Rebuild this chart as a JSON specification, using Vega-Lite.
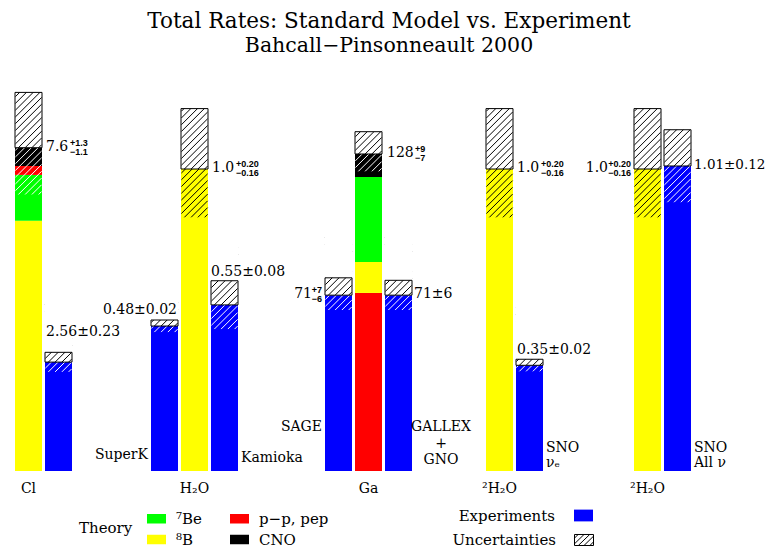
{
  "$schema": "https://vega.github.io/schema/vega-lite/v6.json",
  "background": "white",
  "padding": {"left": 13, "top": 11, "right": 0, "bottom": 0},
  "bounds": "flush",
  "spacing": 0,
  "title": {"text": "Total Rates: Standard Model vs. Experiment", "subtitle": "Bahcall−Pinsonneault 2000", "font": "DejaVu Serif", "fontSize": 21.5, "fontWeight": "normal", "color": "#000000", "subtitleFont": "DejaVu Serif", "subtitleFontSize": 20.5, "subtitleColor": "#000000", "subtitlePadding": 3, "anchor": "middle", "frame": "group", "dx": 374, "offset": 7},
  "config": {"view": {"stroke": null}, "axis": {"grid": false}},
  "datasets": {
    "segments": [
      {"group": "Cl", "bar": "Cl-th", "component": "⁸B", "start": 0, "end": 5.88},
      {"group": "Cl", "bar": "Cl-th", "component": "⁷Be", "start": 5.88, "end": 6.96},
      {"group": "Cl", "bar": "Cl-th", "component": "p−p, pep", "start": 6.96, "end": 7.17},
      {"group": "Cl", "bar": "Cl-th", "component": "CNO", "start": 7.17, "end": 7.6},
      {"group": "Cl", "bar": "Cl-exp", "component": "Experiments", "start": 0, "end": 2.56},
      {"group": "H2O", "bar": "SuperK", "component": "Experiments", "start": 0, "end": 0.48},
      {"group": "H2O", "bar": "H2O-th", "component": "⁸B", "start": 0, "end": 1.0},
      {"group": "H2O", "bar": "Kamioka", "component": "Experiments", "start": 0, "end": 0.55},
      {"group": "Ga", "bar": "SAGE", "component": "Experiments", "start": 0, "end": 71},
      {"group": "Ga", "bar": "Ga-th", "component": "p−p, pep", "start": 0, "end": 71.9},
      {"group": "Ga", "bar": "Ga-th", "component": "⁸B", "start": 71.9, "end": 84.4},
      {"group": "Ga", "bar": "Ga-th", "component": "⁷Be", "start": 84.4, "end": 118.7},
      {"group": "Ga", "bar": "Ga-th", "component": "CNO", "start": 118.7, "end": 128},
      {"group": "Ga", "bar": "GALLEX", "component": "Experiments", "start": 0, "end": 71},
      {"group": "D2O-e", "bar": "SNOe-th", "component": "⁸B", "start": 0, "end": 1.0},
      {"group": "D2O-e", "bar": "SNOe-exp", "component": "Experiments", "start": 0, "end": 0.35},
      {"group": "D2O-all", "bar": "SNOall-th", "component": "⁸B", "start": 0, "end": 1.0},
      {"group": "D2O-all", "bar": "SNOall-exp", "component": "Experiments", "start": 0, "end": 1.01}
    ],
    "bars": [
      {"group": "Cl", "bar": "Cl-th", "glabel": "Cl", "value": 7.6, "lo": 6.5, "hi": 8.9, "lowerIn": "⁷Be", "main": "7.6", "up": "+1.3", "down": "−1.1"},
      {"group": "Cl", "bar": "Cl-exp", "value": 2.56, "lo": 2.33, "hi": 2.79, "lowerIn": "Experiments", "main": "2.56±0.23"},
      {"group": "H2O", "bar": "SuperK", "value": 0.48, "lo": 0.46, "hi": 0.5, "lowerIn": "Experiments", "main": "0.48±0.02", "name": "SuperK"},
      {"group": "H2O", "bar": "H2O-th", "glabel": "H₂O", "value": 1.0, "lo": 0.84, "hi": 1.2, "lowerIn": "⁸B", "main": "1.0", "up": "+0.20", "down": "−0.16"},
      {"group": "H2O", "bar": "Kamioka", "value": 0.55, "lo": 0.47, "hi": 0.63, "lowerIn": "Experiments", "main": "0.55±0.08", "name": "Kamioka"},
      {"group": "Ga", "bar": "SAGE", "value": 71, "lo": 65, "hi": 78, "lowerIn": "Experiments", "main": "71", "up": "+7", "down": "−6", "name": "SAGE"},
      {"group": "Ga", "bar": "Ga-th", "glabel": "Ga", "value": 128, "lo": 121, "hi": 137, "lowerIn": "CNO", "main": "128", "up": "+9", "down": "−7"},
      {"group": "Ga", "bar": "GALLEX", "value": 71, "lo": 65, "hi": 77, "lowerIn": "Experiments", "main": "71±6", "name": "GALLEX\n+\nGNO"},
      {"group": "D2O-e", "bar": "SNOe-th", "glabel": "²H₂O", "value": 1.0, "lo": 0.84, "hi": 1.2, "lowerIn": "⁸B", "main": "1.0", "up": "+0.20", "down": "−0.16"},
      {"group": "D2O-e", "bar": "SNOe-exp", "value": 0.35, "lo": 0.33, "hi": 0.37, "lowerIn": "Experiments", "main": "0.35±0.02", "name": "SNO\nνₑ"},
      {"group": "D2O-all", "bar": "SNOall-th", "glabel": "²H₂O", "value": 1.0, "lo": 0.84, "hi": 1.2, "lowerIn": "⁸B", "main": "1.0", "up": "+0.20", "down": "−0.16"},
      {"group": "D2O-all", "bar": "SNOall-exp", "value": 1.01, "lo": 0.89, "hi": 1.13, "lowerIn": "Experiments", "main": "1.01±0.12", "name": "SNO\nAll ν"}
    ]
  },
  "hconcat": [
    {
      "width": 136, "height": 408,
      "layer": [
        {"data": {"name": "segments"}, "transform": [{"filter": "datum.group == 'Cl'"}], "mark": {"type": "rect"},
         "encoding": {
           "x": {"field": "bar", "type": "nominal", "scale": {"domain": ["Cl-th", "Cl-exp"], "paddingInner": 0.1, "paddingOuter": 0, "range": [0, 57]}, "axis": null},
           "y": {"field": "start", "type": "quantitative", "scale": {"domain": [0, 9.591], "nice": false, "zero": true}, "axis": null},
           "y2": {"field": "end"},
           "fill": {"field": "component", "type": "nominal", "scale": {"domain": ["⁷Be", "p−p, pep", "⁸B", "CNO", "Experiments"], "range": ["#00ff00", "#ff0000", "#ffff00", "#000000", "#0000ff"]},
             "legend": {"values": ["⁷Be", "p−p, pep", "⁸B", "CNO"], "title": "Theory", "orient": "none", "legendX": 64, "legendY": 446, "direction": "horizontal", "columns": 2, "titleOrient": "left", "titleAnchor": "middle", "titleFont": "DejaVu Serif", "titleFontSize": 15, "titleFontWeight": "normal", "titleColor": "#000000", "titlePadding": 14, "labelFont": "DejaVu Serif", "labelFontSize": 15, "labelColor": "#000000", "labelOffset": 10, "symbolType": "M-1,-0.5H1V0.5H-1Z", "symbolSize": 361, "symbolStrokeWidth": 0, "symbolOpacity": 1, "columnPadding": 28, "rowPadding": 3}},
           "opacity": {"datum": "Experiments", "type": "nominal", "scale": {"domain": ["Experiments"], "range": [1]},
             "legend": {"title": null, "orient": "none", "legendX": 559, "legendY": 443, "labelFont": "DejaVu Serif", "labelFontSize": 15, "labelColor": "#000000", "labelAlign": "right", "labelOffset": -38, "symbolType": "M-1,-0.62H1V0.62H-1Z", "symbolSize": 361, "symbolFillColor": "#0000ff", "symbolStrokeColor": "#0000ff", "symbolStrokeWidth": 0, "symbolOpacity": 1}}
         }},
        {"data": {"name": "bars"}, "transform": [{"filter": "datum.group == 'Cl' && datum.lowerIn != '⁸B'"}],
         "mark": {"type": "point", "shape": "M0.75,0L0.97,-0.22M0.25,0L0.97,-0.72M-0.25,0L0.97,-1.22M-0.75,0L0.97,-1.72M-0.97,-0.28L0.97,-2.22M-0.97,-0.78L0.97,-2.72M-0.97,-1.28L0.97,-3.22M-0.97,-1.78L0.97,-3.72M-0.97,-2.28L0.97,-4.22M-0.97,-2.78L0.85,-4.6M-0.97,-3.28L0.35,-4.6M-0.97,-3.78L-0.15,-4.6M-0.97,-4.28L-0.65,-4.6", "size": 729, "filled": false, "stroke": "#ffffff", "strokeWidth": 1, "opacity": 1},
         "encoding": {"x": {"field": "bar", "type": "nominal", "axis": null}, "y": {"field": "lo", "type": "quantitative", "axis": null}}},
        {"data": {"name": "bars"}, "transform": [{"filter": "datum.group == 'Cl'"}], "mark": {"type": "rect", "fill": "#ffffff"},
         "encoding": {"x": {"field": "bar", "type": "nominal", "axis": null}, "y": {"field": "value", "type": "quantitative", "axis": null}, "y2": {"field": "hi"}}},
        {"data": {"name": "bars"}, "transform": [{"filter": "datum.group == 'Cl'"}],
         "mark": {"type": "point", "shape": "M0.75,0L0.97,-0.22M0.25,0L0.97,-0.72M-0.25,0L0.97,-1.22M-0.75,0L0.97,-1.72M-0.97,-0.28L0.97,-2.22M-0.97,-0.78L0.97,-2.72M-0.97,-1.28L0.97,-3.22M-0.97,-1.78L0.97,-3.72M-0.97,-2.28L0.97,-4.22M-0.97,-2.78L0.85,-4.6M-0.97,-3.28L0.35,-4.6M-0.97,-3.78L-0.15,-4.6M-0.97,-4.28L-0.65,-4.6", "size": 729, "filled": false, "stroke": "#000000", "strokeWidth": 1, "opacity": 1},
         "encoding": {"x": {"field": "bar", "type": "nominal", "axis": null}, "y": {"field": "value", "type": "quantitative", "axis": null}}},
        {"data": {"name": "bars"}, "transform": [{"filter": "datum.group == 'Cl'"}], "mark": {"type": "rect", "fill": "#ffffff"},
         "encoding": {"x": {"field": "bar", "type": "nominal", "axis": null}, "y": {"field": "hi", "type": "quantitative", "axis": null}, "y2": {"datum": 9.591}}},
        {"data": {"name": "bars"}, "transform": [{"filter": "datum.group == 'Cl'"}], "mark": {"type": "rect", "fill": "transparent", "strokeWidth": 1},
         "encoding": {"x": {"field": "bar", "type": "nominal", "axis": null}, "y": {"field": "value", "type": "quantitative", "axis": null}, "y2": {"field": "hi"},
           "stroke": {"datum": "Uncertainties", "type": "nominal", "scale": {"domain": ["Uncertainties"], "range": ["#000000"]},
             "legend": {"title": null, "orient": "none", "legendX": 559, "legendY": 467, "labelFont": "DejaVu Serif", "labelFontSize": 15, "labelColor": "#000000", "labelAlign": "right", "labelOffset": -38, "symbolType": "M-1,-0.58H1V0.58H-1ZM-1,-0.2L-0.62,-0.58M-1,0.4L0,-0.58M-0.6,0.58L0.6,-0.58M0,0.58L1,-0.4M0.62,0.58L1,0.2", "symbolSize": 361, "symbolFillColor": "#ffffff", "symbolStrokeWidth": 1, "symbolOpacity": 1}}
         }},
        {"data": {"name": "bars"}, "transform": [{"filter": "datum.bar == 'Cl-th'"}], "mark": {"type": "text", "align": "left", "baseline": "middle", "dx": 4, "dy": -1, "font": "DejaVu Serif", "fontSize": 14},
         "encoding": {"x": {"field": "bar", "type": "nominal", "bandPosition": 1, "axis": null}, "y": {"field": "value", "type": "quantitative", "axis": null}, "text": {"field": "main"}}},
        {"data": {"name": "bars"}, "transform": [{"filter": "datum.bar == 'Cl-th'"}], "mark": {"type": "text", "align": "left", "baseline": "middle", "dx": 28, "dy": -5, "font": "Liberation Sans", "fontWeight": "bold", "fontSize": 9},
         "encoding": {"x": {"field": "bar", "type": "nominal", "bandPosition": 1, "axis": null}, "y": {"field": "value", "type": "quantitative", "axis": null}, "text": {"field": "up"}}},
        {"data": {"name": "bars"}, "transform": [{"filter": "datum.bar == 'Cl-th'"}], "mark": {"type": "text", "align": "left", "baseline": "middle", "dx": 28, "dy": 4, "font": "Liberation Sans", "fontWeight": "bold", "fontSize": 9},
         "encoding": {"x": {"field": "bar", "type": "nominal", "bandPosition": 1, "axis": null}, "y": {"field": "value", "type": "quantitative", "axis": null}, "text": {"field": "down"}}},
        {"data": {"name": "bars"}, "transform": [{"filter": "datum.bar == 'Cl-exp'"}], "mark": {"type": "text", "align": "left", "baseline": "alphabetic", "dx": 1, "dy": -16, "font": "DejaVu Serif", "fontSize": 14},
         "encoding": {"x": {"field": "bar", "type": "nominal", "bandPosition": 0, "axis": null}, "y": {"field": "hi", "type": "quantitative", "axis": null}, "text": {"field": "main"}}},
        {"data": {"name": "bars"}, "transform": [{"filter": "datum.group == 'Cl' && isValid(datum.glabel)"}], "mark": {"type": "text", "align": "center", "baseline": "top", "dy": 11, "font": "DejaVu Serif", "fontSize": 14},
         "encoding": {"x": {"field": "bar", "type": "nominal", "bandPosition": 0.5, "axis": null}, "y": {"datum": 0, "type": "quantitative", "axis": null}, "text": {"field": "glabel"}}}
      ]
    },
    {
      "width": 174, "height": 408,
      "layer": [
        {"data": {"name": "segments"}, "transform": [{"filter": "datum.group == 'H2O'"}], "mark": {"type": "rect"},
         "encoding": {
           "x": {"field": "bar", "type": "nominal", "scale": {"domain": ["SuperK", "H2O-th", "Kamioka"], "paddingInner": 0.1, "paddingOuter": 0, "range": [0, 87]}, "axis": null},
           "y": {"field": "start", "type": "quantitative", "scale": {"domain": [0, 1.351], "nice": false, "zero": true}, "axis": null},
           "y2": {"field": "end"},
           "fill": {"field": "component", "type": "nominal", "scale": {"domain": ["⁷Be", "p−p, pep", "⁸B", "CNO", "Experiments"], "range": ["#00ff00", "#ff0000", "#ffff00", "#000000", "#0000ff"]}, "legend": null}
         }},
        {"data": {"name": "bars"}, "transform": [{"filter": "datum.group == 'H2O' && datum.lowerIn != '⁸B'"}],
         "mark": {"type": "point", "shape": "M0.75,0L0.97,-0.22M0.25,0L0.97,-0.72M-0.25,0L0.97,-1.22M-0.75,0L0.97,-1.72M-0.97,-0.28L0.97,-2.22M-0.97,-0.78L0.97,-2.72M-0.97,-1.28L0.97,-3.22M-0.97,-1.78L0.97,-3.72M-0.97,-2.28L0.97,-4.22M-0.97,-2.78L0.85,-4.6M-0.97,-3.28L0.35,-4.6M-0.97,-3.78L-0.15,-4.6M-0.97,-4.28L-0.65,-4.6", "size": 729, "filled": false, "stroke": "#ffffff", "strokeWidth": 1, "opacity": 1},
         "encoding": {"x": {"field": "bar", "type": "nominal", "axis": null}, "y": {"field": "lo", "type": "quantitative", "axis": null}}},
        {"data": {"name": "bars"}, "transform": [{"filter": "datum.group == 'H2O' && datum.lowerIn == '⁸B'"}],
         "mark": {"type": "point", "shape": "M0.75,0L0.97,-0.22M0.25,0L0.97,-0.72M-0.25,0L0.97,-1.22M-0.75,0L0.97,-1.72M-0.97,-0.28L0.97,-2.22M-0.97,-0.78L0.97,-2.72M-0.97,-1.28L0.97,-3.22M-0.97,-1.78L0.97,-3.72M-0.97,-2.28L0.97,-4.22M-0.97,-2.78L0.85,-4.6M-0.97,-3.28L0.35,-4.6M-0.97,-3.78L-0.15,-4.6M-0.97,-4.28L-0.65,-4.6", "size": 729, "filled": false, "stroke": "#000000", "strokeWidth": 1, "opacity": 1},
         "encoding": {"x": {"field": "bar", "type": "nominal", "axis": null}, "y": {"field": "lo", "type": "quantitative", "axis": null}}},
        {"data": {"name": "bars"}, "transform": [{"filter": "datum.group == 'H2O'"}], "mark": {"type": "rect", "fill": "#ffffff"},
         "encoding": {"x": {"field": "bar", "type": "nominal", "axis": null}, "y": {"field": "value", "type": "quantitative", "axis": null}, "y2": {"field": "hi"}}},
        {"data": {"name": "bars"}, "transform": [{"filter": "datum.group == 'H2O'"}],
         "mark": {"type": "point", "shape": "M0.75,0L0.97,-0.22M0.25,0L0.97,-0.72M-0.25,0L0.97,-1.22M-0.75,0L0.97,-1.72M-0.97,-0.28L0.97,-2.22M-0.97,-0.78L0.97,-2.72M-0.97,-1.28L0.97,-3.22M-0.97,-1.78L0.97,-3.72M-0.97,-2.28L0.97,-4.22M-0.97,-2.78L0.85,-4.6M-0.97,-3.28L0.35,-4.6M-0.97,-3.78L-0.15,-4.6M-0.97,-4.28L-0.65,-4.6", "size": 729, "filled": false, "stroke": "#000000", "strokeWidth": 1, "opacity": 1},
         "encoding": {"x": {"field": "bar", "type": "nominal", "axis": null}, "y": {"field": "value", "type": "quantitative", "axis": null}}},
        {"data": {"name": "bars"}, "transform": [{"filter": "datum.group == 'H2O'"}], "mark": {"type": "rect", "fill": "#ffffff"},
         "encoding": {"x": {"field": "bar", "type": "nominal", "axis": null}, "y": {"field": "hi", "type": "quantitative", "axis": null}, "y2": {"datum": 1.351}}},
        {"data": {"name": "bars"}, "transform": [{"filter": "datum.group == 'H2O'"}], "mark": {"type": "rect", "fill": "transparent", "strokeWidth": 1},
         "encoding": {"x": {"field": "bar", "type": "nominal", "axis": null}, "y": {"field": "value", "type": "quantitative", "axis": null}, "y2": {"field": "hi"},
           "stroke": {"datum": "Uncertainties", "type": "nominal", "scale": {"domain": ["Uncertainties"], "range": ["#000000"]}, "legend": null}}},
        {"data": {"name": "bars"}, "transform": [{"filter": "datum.bar == 'H2O-th'"}], "mark": {"type": "text", "align": "left", "baseline": "middle", "dx": 4, "dy": -1, "font": "DejaVu Serif", "fontSize": 14},
         "encoding": {"x": {"field": "bar", "type": "nominal", "bandPosition": 1, "axis": null}, "y": {"field": "value", "type": "quantitative", "axis": null}, "text": {"field": "main"}}},
        {"data": {"name": "bars"}, "transform": [{"filter": "datum.bar == 'H2O-th'"}], "mark": {"type": "text", "align": "left", "baseline": "middle", "dx": 28, "dy": -5, "font": "Liberation Sans", "fontWeight": "bold", "fontSize": 9},
         "encoding": {"x": {"field": "bar", "type": "nominal", "bandPosition": 1, "axis": null}, "y": {"field": "value", "type": "quantitative", "axis": null}, "text": {"field": "up"}}},
        {"data": {"name": "bars"}, "transform": [{"filter": "datum.bar == 'H2O-th'"}], "mark": {"type": "text", "align": "left", "baseline": "middle", "dx": 28, "dy": 4, "font": "Liberation Sans", "fontWeight": "bold", "fontSize": 9},
         "encoding": {"x": {"field": "bar", "type": "nominal", "bandPosition": 1, "axis": null}, "y": {"field": "value", "type": "quantitative", "axis": null}, "text": {"field": "down"}}},
        {"data": {"name": "bars"}, "transform": [{"filter": "datum.bar == 'SuperK'"}], "mark": {"type": "text", "align": "right", "baseline": "alphabetic", "dx": -1, "dy": -6, "font": "DejaVu Serif", "fontSize": 14},
         "encoding": {"x": {"field": "bar", "type": "nominal", "bandPosition": 1, "axis": null}, "y": {"field": "hi", "type": "quantitative", "axis": null}, "text": {"field": "main"}}},
        {"data": {"name": "bars"}, "transform": [{"filter": "datum.bar == 'Kamioka'"}], "mark": {"type": "text", "align": "left", "baseline": "alphabetic", "dx": 0, "dy": -5, "font": "DejaVu Serif", "fontSize": 14},
         "encoding": {"x": {"field": "bar", "type": "nominal", "bandPosition": 0, "axis": null}, "y": {"field": "hi", "type": "quantitative", "axis": null}, "text": {"field": "main"}}},
        {"data": {"name": "bars"}, "transform": [{"filter": "datum.bar == 'SuperK'"}], "mark": {"type": "text", "align": "right", "baseline": "alphabetic", "dx": -3, "dy": -12, "font": "DejaVu Serif", "fontSize": 14},
         "encoding": {"x": {"field": "bar", "type": "nominal", "bandPosition": 0, "axis": null}, "y": {"datum": 0, "type": "quantitative", "axis": null}, "text": {"field": "name"}}},
        {"data": {"name": "bars"}, "transform": [{"filter": "datum.bar == 'Kamioka'"}], "mark": {"type": "text", "align": "left", "baseline": "alphabetic", "dx": 3, "dy": -9, "font": "DejaVu Serif", "fontSize": 14},
         "encoding": {"x": {"field": "bar", "type": "nominal", "bandPosition": 1, "axis": null}, "y": {"datum": 0, "type": "quantitative", "axis": null}, "text": {"field": "name"}}},
        {"data": {"name": "bars"}, "transform": [{"filter": "datum.group == 'H2O' && isValid(datum.glabel)"}], "mark": {"type": "text", "align": "center", "baseline": "top", "dy": 11, "font": "DejaVu Serif", "fontSize": 14},
         "encoding": {"x": {"field": "bar", "type": "nominal", "bandPosition": 0.5, "axis": null}, "y": {"datum": 0, "type": "quantitative", "axis": null}, "text": {"field": "glabel"}}}
      ]
    },
    {
      "width": 161, "height": 408,
      "layer": [
        {"data": {"name": "segments"}, "transform": [{"filter": "datum.group == 'Ga'"}], "mark": {"type": "rect"},
         "encoding": {
           "x": {"field": "bar", "type": "nominal", "scale": {"domain": ["SAGE", "Ga-th", "GALLEX"], "paddingInner": 0.1, "paddingOuter": 0, "range": [0, 87]}, "axis": null},
           "y": {"field": "start", "type": "quantitative", "scale": {"domain": [0, 164.74], "nice": false, "zero": true}, "axis": null},
           "y2": {"field": "end"},
           "fill": {"field": "component", "type": "nominal", "scale": {"domain": ["⁷Be", "p−p, pep", "⁸B", "CNO", "Experiments"], "range": ["#00ff00", "#ff0000", "#ffff00", "#000000", "#0000ff"]}, "legend": null}
         }},
        {"data": {"name": "bars"}, "transform": [{"filter": "datum.group == 'Ga' && datum.lowerIn != '⁸B'"}],
         "mark": {"type": "point", "shape": "M0.75,0L0.97,-0.22M0.25,0L0.97,-0.72M-0.25,0L0.97,-1.22M-0.75,0L0.97,-1.72M-0.97,-0.28L0.97,-2.22M-0.97,-0.78L0.97,-2.72M-0.97,-1.28L0.97,-3.22M-0.97,-1.78L0.97,-3.72M-0.97,-2.28L0.97,-4.22M-0.97,-2.78L0.85,-4.6M-0.97,-3.28L0.35,-4.6M-0.97,-3.78L-0.15,-4.6M-0.97,-4.28L-0.65,-4.6", "size": 729, "filled": false, "stroke": "#ffffff", "strokeWidth": 1, "opacity": 1},
         "encoding": {"x": {"field": "bar", "type": "nominal", "axis": null}, "y": {"field": "lo", "type": "quantitative", "axis": null}}},
        {"data": {"name": "bars"}, "transform": [{"filter": "datum.group == 'Ga'"}], "mark": {"type": "rect", "fill": "#ffffff"},
         "encoding": {"x": {"field": "bar", "type": "nominal", "axis": null}, "y": {"field": "value", "type": "quantitative", "axis": null}, "y2": {"field": "hi"}}},
        {"data": {"name": "bars"}, "transform": [{"filter": "datum.group == 'Ga'"}],
         "mark": {"type": "point", "shape": "M0.75,0L0.97,-0.22M0.25,0L0.97,-0.72M-0.25,0L0.97,-1.22M-0.75,0L0.97,-1.72M-0.97,-0.28L0.97,-2.22M-0.97,-0.78L0.97,-2.72M-0.97,-1.28L0.97,-3.22M-0.97,-1.78L0.97,-3.72M-0.97,-2.28L0.97,-4.22M-0.97,-2.78L0.85,-4.6M-0.97,-3.28L0.35,-4.6M-0.97,-3.78L-0.15,-4.6M-0.97,-4.28L-0.65,-4.6", "size": 729, "filled": false, "stroke": "#000000", "strokeWidth": 1, "opacity": 1},
         "encoding": {"x": {"field": "bar", "type": "nominal", "axis": null}, "y": {"field": "value", "type": "quantitative", "axis": null}}},
        {"data": {"name": "bars"}, "transform": [{"filter": "datum.group == 'Ga'"}], "mark": {"type": "rect", "fill": "#ffffff"},
         "encoding": {"x": {"field": "bar", "type": "nominal", "axis": null}, "y": {"field": "hi", "type": "quantitative", "axis": null}, "y2": {"datum": 164.74}}},
        {"data": {"name": "bars"}, "transform": [{"filter": "datum.group == 'Ga'"}], "mark": {"type": "rect", "fill": "transparent", "strokeWidth": 1},
         "encoding": {"x": {"field": "bar", "type": "nominal", "axis": null}, "y": {"field": "value", "type": "quantitative", "axis": null}, "y2": {"field": "hi"},
           "stroke": {"datum": "Uncertainties", "type": "nominal", "scale": {"domain": ["Uncertainties"], "range": ["#000000"]}, "legend": null}}},
        {"data": {"name": "bars"}, "transform": [{"filter": "datum.bar == 'Ga-th'"}], "mark": {"type": "text", "align": "left", "baseline": "middle", "dx": 5, "dy": -1, "font": "DejaVu Serif", "fontSize": 14},
         "encoding": {"x": {"field": "bar", "type": "nominal", "bandPosition": 1, "axis": null}, "y": {"field": "value", "type": "quantitative", "axis": null}, "text": {"field": "main"}}},
        {"data": {"name": "bars"}, "transform": [{"filter": "datum.bar == 'Ga-th'"}], "mark": {"type": "text", "align": "left", "baseline": "middle", "dx": 33, "dy": -5, "font": "Liberation Sans", "fontWeight": "bold", "fontSize": 9},
         "encoding": {"x": {"field": "bar", "type": "nominal", "bandPosition": 1, "axis": null}, "y": {"field": "value", "type": "quantitative", "axis": null}, "text": {"field": "up"}}},
        {"data": {"name": "bars"}, "transform": [{"filter": "datum.bar == 'Ga-th'"}], "mark": {"type": "text", "align": "left", "baseline": "middle", "dx": 33, "dy": 4, "font": "Liberation Sans", "fontWeight": "bold", "fontSize": 9},
         "encoding": {"x": {"field": "bar", "type": "nominal", "bandPosition": 1, "axis": null}, "y": {"field": "value", "type": "quantitative", "axis": null}, "text": {"field": "down"}}},
        {"data": {"name": "bars"}, "transform": [{"filter": "datum.bar == 'SAGE'"}], "mark": {"type": "text", "align": "right", "baseline": "middle", "dx": -13, "dy": -1, "font": "DejaVu Serif", "fontSize": 14},
         "encoding": {"x": {"field": "bar", "type": "nominal", "bandPosition": 0, "axis": null}, "y": {"field": "value", "type": "quantitative", "axis": null}, "text": {"field": "main"}}},
        {"data": {"name": "bars"}, "transform": [{"filter": "datum.bar == 'SAGE'"}], "mark": {"type": "text", "align": "right", "baseline": "middle", "dx": -3, "dy": -5, "font": "Liberation Sans", "fontWeight": "bold", "fontSize": 9},
         "encoding": {"x": {"field": "bar", "type": "nominal", "bandPosition": 0, "axis": null}, "y": {"field": "value", "type": "quantitative", "axis": null}, "text": {"field": "up"}}},
        {"data": {"name": "bars"}, "transform": [{"filter": "datum.bar == 'SAGE'"}], "mark": {"type": "text", "align": "right", "baseline": "middle", "dx": -3, "dy": 4, "font": "Liberation Sans", "fontWeight": "bold", "fontSize": 9},
         "encoding": {"x": {"field": "bar", "type": "nominal", "bandPosition": 0, "axis": null}, "y": {"field": "value", "type": "quantitative", "axis": null}, "text": {"field": "down"}}},
        {"data": {"name": "bars"}, "transform": [{"filter": "datum.bar == 'GALLEX'"}], "mark": {"type": "text", "align": "left", "baseline": "middle", "dx": 2, "dy": -1, "font": "DejaVu Serif", "fontSize": 14},
         "encoding": {"x": {"field": "bar", "type": "nominal", "bandPosition": 1, "axis": null}, "y": {"field": "value", "type": "quantitative", "axis": null}, "text": {"field": "main"}}},
        {"data": {"name": "bars"}, "transform": [{"filter": "datum.bar == 'SAGE'"}], "mark": {"type": "text", "align": "right", "baseline": "alphabetic", "dx": -3, "dy": -40, "font": "DejaVu Serif", "fontSize": 14},
         "encoding": {"x": {"field": "bar", "type": "nominal", "bandPosition": 0, "axis": null}, "y": {"datum": 0, "type": "quantitative", "axis": null}, "text": {"field": "name"}}},
        {"data": {"name": "bars"}, "transform": [{"filter": "datum.bar == 'GALLEX'"}], "mark": {"type": "text", "align": "center", "baseline": "alphabetic", "dx": 29, "dy": -40, "lineBreak": "\n", "lineHeight": 16.5, "font": "DejaVu Serif", "fontSize": 14},
         "encoding": {"x": {"field": "bar", "type": "nominal", "bandPosition": 1, "axis": null}, "y": {"datum": 0, "type": "quantitative", "axis": null}, "text": {"field": "name"}}},
        {"data": {"name": "bars"}, "transform": [{"filter": "datum.group == 'Ga' && isValid(datum.glabel)"}], "mark": {"type": "text", "align": "center", "baseline": "top", "dy": 11, "font": "DejaVu Serif", "fontSize": 14},
         "encoding": {"x": {"field": "bar", "type": "nominal", "bandPosition": 0.5, "axis": null}, "y": {"datum": 0, "type": "quantitative", "axis": null}, "text": {"field": "glabel"}}}
      ]
    },
    {
      "width": 148, "height": 408,
      "layer": [
        {"data": {"name": "segments"}, "transform": [{"filter": "datum.group == 'D2O-e'"}], "mark": {"type": "rect"},
         "encoding": {
           "x": {"field": "bar", "type": "nominal", "scale": {"domain": ["SNOe-th", "SNOe-exp"], "paddingInner": 0.1, "paddingOuter": 0, "range": [0, 57]}, "axis": null},
           "y": {"field": "start", "type": "quantitative", "scale": {"domain": [0, 1.351], "nice": false, "zero": true}, "axis": null},
           "y2": {"field": "end"},
           "fill": {"field": "component", "type": "nominal", "scale": {"domain": ["⁷Be", "p−p, pep", "⁸B", "CNO", "Experiments"], "range": ["#00ff00", "#ff0000", "#ffff00", "#000000", "#0000ff"]}, "legend": null}
         }},
        {"data": {"name": "bars"}, "transform": [{"filter": "datum.group == 'D2O-e' && datum.lowerIn != '⁸B'"}],
         "mark": {"type": "point", "shape": "M0.75,0L0.97,-0.22M0.25,0L0.97,-0.72M-0.25,0L0.97,-1.22M-0.75,0L0.97,-1.72M-0.97,-0.28L0.97,-2.22M-0.97,-0.78L0.97,-2.72M-0.97,-1.28L0.97,-3.22M-0.97,-1.78L0.97,-3.72M-0.97,-2.28L0.97,-4.22M-0.97,-2.78L0.85,-4.6M-0.97,-3.28L0.35,-4.6M-0.97,-3.78L-0.15,-4.6M-0.97,-4.28L-0.65,-4.6", "size": 729, "filled": false, "stroke": "#ffffff", "strokeWidth": 1, "opacity": 1},
         "encoding": {"x": {"field": "bar", "type": "nominal", "axis": null}, "y": {"field": "lo", "type": "quantitative", "axis": null}}},
        {"data": {"name": "bars"}, "transform": [{"filter": "datum.group == 'D2O-e' && datum.lowerIn == '⁸B'"}],
         "mark": {"type": "point", "shape": "M0.75,0L0.97,-0.22M0.25,0L0.97,-0.72M-0.25,0L0.97,-1.22M-0.75,0L0.97,-1.72M-0.97,-0.28L0.97,-2.22M-0.97,-0.78L0.97,-2.72M-0.97,-1.28L0.97,-3.22M-0.97,-1.78L0.97,-3.72M-0.97,-2.28L0.97,-4.22M-0.97,-2.78L0.85,-4.6M-0.97,-3.28L0.35,-4.6M-0.97,-3.78L-0.15,-4.6M-0.97,-4.28L-0.65,-4.6", "size": 729, "filled": false, "stroke": "#000000", "strokeWidth": 1, "opacity": 1},
         "encoding": {"x": {"field": "bar", "type": "nominal", "axis": null}, "y": {"field": "lo", "type": "quantitative", "axis": null}}},
        {"data": {"name": "bars"}, "transform": [{"filter": "datum.group == 'D2O-e'"}], "mark": {"type": "rect", "fill": "#ffffff"},
         "encoding": {"x": {"field": "bar", "type": "nominal", "axis": null}, "y": {"field": "value", "type": "quantitative", "axis": null}, "y2": {"field": "hi"}}},
        {"data": {"name": "bars"}, "transform": [{"filter": "datum.group == 'D2O-e'"}],
         "mark": {"type": "point", "shape": "M0.75,0L0.97,-0.22M0.25,0L0.97,-0.72M-0.25,0L0.97,-1.22M-0.75,0L0.97,-1.72M-0.97,-0.28L0.97,-2.22M-0.97,-0.78L0.97,-2.72M-0.97,-1.28L0.97,-3.22M-0.97,-1.78L0.97,-3.72M-0.97,-2.28L0.97,-4.22M-0.97,-2.78L0.85,-4.6M-0.97,-3.28L0.35,-4.6M-0.97,-3.78L-0.15,-4.6M-0.97,-4.28L-0.65,-4.6", "size": 729, "filled": false, "stroke": "#000000", "strokeWidth": 1, "opacity": 1},
         "encoding": {"x": {"field": "bar", "type": "nominal", "axis": null}, "y": {"field": "value", "type": "quantitative", "axis": null}}},
        {"data": {"name": "bars"}, "transform": [{"filter": "datum.group == 'D2O-e'"}], "mark": {"type": "rect", "fill": "#ffffff"},
         "encoding": {"x": {"field": "bar", "type": "nominal", "axis": null}, "y": {"field": "hi", "type": "quantitative", "axis": null}, "y2": {"datum": 1.351}}},
        {"data": {"name": "bars"}, "transform": [{"filter": "datum.group == 'D2O-e'"}], "mark": {"type": "rect", "fill": "transparent", "strokeWidth": 1},
         "encoding": {"x": {"field": "bar", "type": "nominal", "axis": null}, "y": {"field": "value", "type": "quantitative", "axis": null}, "y2": {"field": "hi"},
           "stroke": {"datum": "Uncertainties", "type": "nominal", "scale": {"domain": ["Uncertainties"], "range": ["#000000"]}, "legend": null}}},
        {"data": {"name": "bars"}, "transform": [{"filter": "datum.bar == 'SNOe-th'"}], "mark": {"type": "text", "align": "left", "baseline": "middle", "dx": 4, "dy": -1, "font": "DejaVu Serif", "fontSize": 14},
         "encoding": {"x": {"field": "bar", "type": "nominal", "bandPosition": 1, "axis": null}, "y": {"field": "value", "type": "quantitative", "axis": null}, "text": {"field": "main"}}},
        {"data": {"name": "bars"}, "transform": [{"filter": "datum.bar == 'SNOe-th'"}], "mark": {"type": "text", "align": "left", "baseline": "middle", "dx": 28, "dy": -5, "font": "Liberation Sans", "fontWeight": "bold", "fontSize": 9},
         "encoding": {"x": {"field": "bar", "type": "nominal", "bandPosition": 1, "axis": null}, "y": {"field": "value", "type": "quantitative", "axis": null}, "text": {"field": "up"}}},
        {"data": {"name": "bars"}, "transform": [{"filter": "datum.bar == 'SNOe-th'"}], "mark": {"type": "text", "align": "left", "baseline": "middle", "dx": 28, "dy": 4, "font": "Liberation Sans", "fontWeight": "bold", "fontSize": 9},
         "encoding": {"x": {"field": "bar", "type": "nominal", "bandPosition": 1, "axis": null}, "y": {"field": "value", "type": "quantitative", "axis": null}, "text": {"field": "down"}}},
        {"data": {"name": "bars"}, "transform": [{"filter": "datum.bar == 'SNOe-exp'"}], "mark": {"type": "text", "align": "left", "baseline": "alphabetic", "dx": 1, "dy": -5, "font": "DejaVu Serif", "fontSize": 14},
         "encoding": {"x": {"field": "bar", "type": "nominal", "bandPosition": 0, "axis": null}, "y": {"field": "hi", "type": "quantitative", "axis": null}, "text": {"field": "main"}}},
        {"data": {"name": "bars"}, "transform": [{"filter": "datum.bar == 'SNOe-exp'"}], "mark": {"type": "text", "align": "left", "baseline": "alphabetic", "dx": 3, "dy": -19, "lineBreak": "\n", "lineHeight": 15, "font": "DejaVu Serif", "fontSize": 14},
         "encoding": {"x": {"field": "bar", "type": "nominal", "bandPosition": 1, "axis": null}, "y": {"datum": 0, "type": "quantitative", "axis": null}, "text": {"field": "name"}}},
        {"data": {"name": "bars"}, "transform": [{"filter": "datum.group == 'D2O-e' && isValid(datum.glabel)"}], "mark": {"type": "text", "align": "center", "baseline": "top", "dy": 11, "font": "DejaVu Serif", "fontSize": 14},
         "encoding": {"x": {"field": "bar", "type": "nominal", "bandPosition": 0.5, "axis": null}, "y": {"datum": 0, "type": "quantitative", "axis": null}, "text": {"field": "glabel"}}}
      ]
    },
    {
      "width": 129, "height": 408,
      "layer": [
        {"data": {"name": "segments"}, "transform": [{"filter": "datum.group == 'D2O-all'"}], "mark": {"type": "rect"},
         "encoding": {
           "x": {"field": "bar", "type": "nominal", "scale": {"domain": ["SNOall-th", "SNOall-exp"], "paddingInner": 0.1, "paddingOuter": 0, "range": [0, 57]}, "axis": null},
           "y": {"field": "start", "type": "quantitative", "scale": {"domain": [0, 1.351], "nice": false, "zero": true}, "axis": null},
           "y2": {"field": "end"},
           "fill": {"field": "component", "type": "nominal", "scale": {"domain": ["⁷Be", "p−p, pep", "⁸B", "CNO", "Experiments"], "range": ["#00ff00", "#ff0000", "#ffff00", "#000000", "#0000ff"]}, "legend": null}
         }},
        {"data": {"name": "bars"}, "transform": [{"filter": "datum.group == 'D2O-all' && datum.lowerIn != '⁸B'"}],
         "mark": {"type": "point", "shape": "M0.75,0L0.97,-0.22M0.25,0L0.97,-0.72M-0.25,0L0.97,-1.22M-0.75,0L0.97,-1.72M-0.97,-0.28L0.97,-2.22M-0.97,-0.78L0.97,-2.72M-0.97,-1.28L0.97,-3.22M-0.97,-1.78L0.97,-3.72M-0.97,-2.28L0.97,-4.22M-0.97,-2.78L0.85,-4.6M-0.97,-3.28L0.35,-4.6M-0.97,-3.78L-0.15,-4.6M-0.97,-4.28L-0.65,-4.6", "size": 729, "filled": false, "stroke": "#ffffff", "strokeWidth": 1, "opacity": 1},
         "encoding": {"x": {"field": "bar", "type": "nominal", "axis": null}, "y": {"field": "lo", "type": "quantitative", "axis": null}}},
        {"data": {"name": "bars"}, "transform": [{"filter": "datum.group == 'D2O-all' && datum.lowerIn == '⁸B'"}],
         "mark": {"type": "point", "shape": "M0.75,0L0.97,-0.22M0.25,0L0.97,-0.72M-0.25,0L0.97,-1.22M-0.75,0L0.97,-1.72M-0.97,-0.28L0.97,-2.22M-0.97,-0.78L0.97,-2.72M-0.97,-1.28L0.97,-3.22M-0.97,-1.78L0.97,-3.72M-0.97,-2.28L0.97,-4.22M-0.97,-2.78L0.85,-4.6M-0.97,-3.28L0.35,-4.6M-0.97,-3.78L-0.15,-4.6M-0.97,-4.28L-0.65,-4.6", "size": 729, "filled": false, "stroke": "#000000", "strokeWidth": 1, "opacity": 1},
         "encoding": {"x": {"field": "bar", "type": "nominal", "axis": null}, "y": {"field": "lo", "type": "quantitative", "axis": null}}},
        {"data": {"name": "bars"}, "transform": [{"filter": "datum.group == 'D2O-all'"}], "mark": {"type": "rect", "fill": "#ffffff"},
         "encoding": {"x": {"field": "bar", "type": "nominal", "axis": null}, "y": {"field": "value", "type": "quantitative", "axis": null}, "y2": {"field": "hi"}}},
        {"data": {"name": "bars"}, "transform": [{"filter": "datum.group == 'D2O-all'"}],
         "mark": {"type": "point", "shape": "M0.75,0L0.97,-0.22M0.25,0L0.97,-0.72M-0.25,0L0.97,-1.22M-0.75,0L0.97,-1.72M-0.97,-0.28L0.97,-2.22M-0.97,-0.78L0.97,-2.72M-0.97,-1.28L0.97,-3.22M-0.97,-1.78L0.97,-3.72M-0.97,-2.28L0.97,-4.22M-0.97,-2.78L0.85,-4.6M-0.97,-3.28L0.35,-4.6M-0.97,-3.78L-0.15,-4.6M-0.97,-4.28L-0.65,-4.6", "size": 729, "filled": false, "stroke": "#000000", "strokeWidth": 1, "opacity": 1},
         "encoding": {"x": {"field": "bar", "type": "nominal", "axis": null}, "y": {"field": "value", "type": "quantitative", "axis": null}}},
        {"data": {"name": "bars"}, "transform": [{"filter": "datum.group == 'D2O-all'"}], "mark": {"type": "rect", "fill": "#ffffff"},
         "encoding": {"x": {"field": "bar", "type": "nominal", "axis": null}, "y": {"field": "hi", "type": "quantitative", "axis": null}, "y2": {"datum": 1.351}}},
        {"data": {"name": "bars"}, "transform": [{"filter": "datum.group == 'D2O-all'"}], "mark": {"type": "rect", "fill": "transparent", "strokeWidth": 1},
         "encoding": {"x": {"field": "bar", "type": "nominal", "axis": null}, "y": {"field": "value", "type": "quantitative", "axis": null}, "y2": {"field": "hi"},
           "stroke": {"datum": "Uncertainties", "type": "nominal", "scale": {"domain": ["Uncertainties"], "range": ["#000000"]}, "legend": null}}},
        {"data": {"name": "bars"}, "transform": [{"filter": "datum.bar == 'SNOall-th'"}], "mark": {"type": "text", "align": "right", "baseline": "middle", "dx": -26, "dy": -1, "font": "DejaVu Serif", "fontSize": 14},
         "encoding": {"x": {"field": "bar", "type": "nominal", "bandPosition": 0, "axis": null}, "y": {"field": "value", "type": "quantitative", "axis": null}, "text": {"field": "main"}}},
        {"data": {"name": "bars"}, "transform": [{"filter": "datum.bar == 'SNOall-th'"}], "mark": {"type": "text", "align": "right", "baseline": "middle", "dx": -3, "dy": -5, "font": "Liberation Sans", "fontWeight": "bold", "fontSize": 9},
         "encoding": {"x": {"field": "bar", "type": "nominal", "bandPosition": 0, "axis": null}, "y": {"field": "value", "type": "quantitative", "axis": null}, "text": {"field": "up"}}},
        {"data": {"name": "bars"}, "transform": [{"filter": "datum.bar == 'SNOall-th'"}], "mark": {"type": "text", "align": "right", "baseline": "middle", "dx": -3, "dy": 4, "font": "Liberation Sans", "fontWeight": "bold", "fontSize": 9},
         "encoding": {"x": {"field": "bar", "type": "nominal", "bandPosition": 0, "axis": null}, "y": {"field": "value", "type": "quantitative", "axis": null}, "text": {"field": "down"}}},
        {"data": {"name": "bars"}, "transform": [{"filter": "datum.bar == 'SNOall-exp'"}], "mark": {"type": "text", "align": "left", "baseline": "middle", "dx": 3, "dy": -1, "font": "DejaVu Serif", "fontSize": 13.5},
         "encoding": {"x": {"field": "bar", "type": "nominal", "bandPosition": 1, "axis": null}, "y": {"field": "value", "type": "quantitative", "axis": null}, "text": {"field": "main"}}},
        {"data": {"name": "bars"}, "transform": [{"filter": "datum.bar == 'SNOall-exp'"}], "mark": {"type": "text", "align": "left", "baseline": "alphabetic", "dx": 3, "dy": -19, "lineBreak": "\n", "lineHeight": 15, "font": "DejaVu Serif", "fontSize": 14},
         "encoding": {"x": {"field": "bar", "type": "nominal", "bandPosition": 1, "axis": null}, "y": {"datum": 0, "type": "quantitative", "axis": null}, "text": {"field": "name"}}},
        {"data": {"name": "bars"}, "transform": [{"filter": "datum.group == 'D2O-all' && isValid(datum.glabel)"}], "mark": {"type": "text", "align": "center", "baseline": "top", "dy": 11, "font": "DejaVu Serif", "fontSize": 14},
         "encoding": {"x": {"field": "bar", "type": "nominal", "bandPosition": 0.5, "axis": null}, "y": {"datum": 0, "type": "quantitative", "axis": null}, "text": {"field": "glabel"}}}
      ]
    }
  ]
}
